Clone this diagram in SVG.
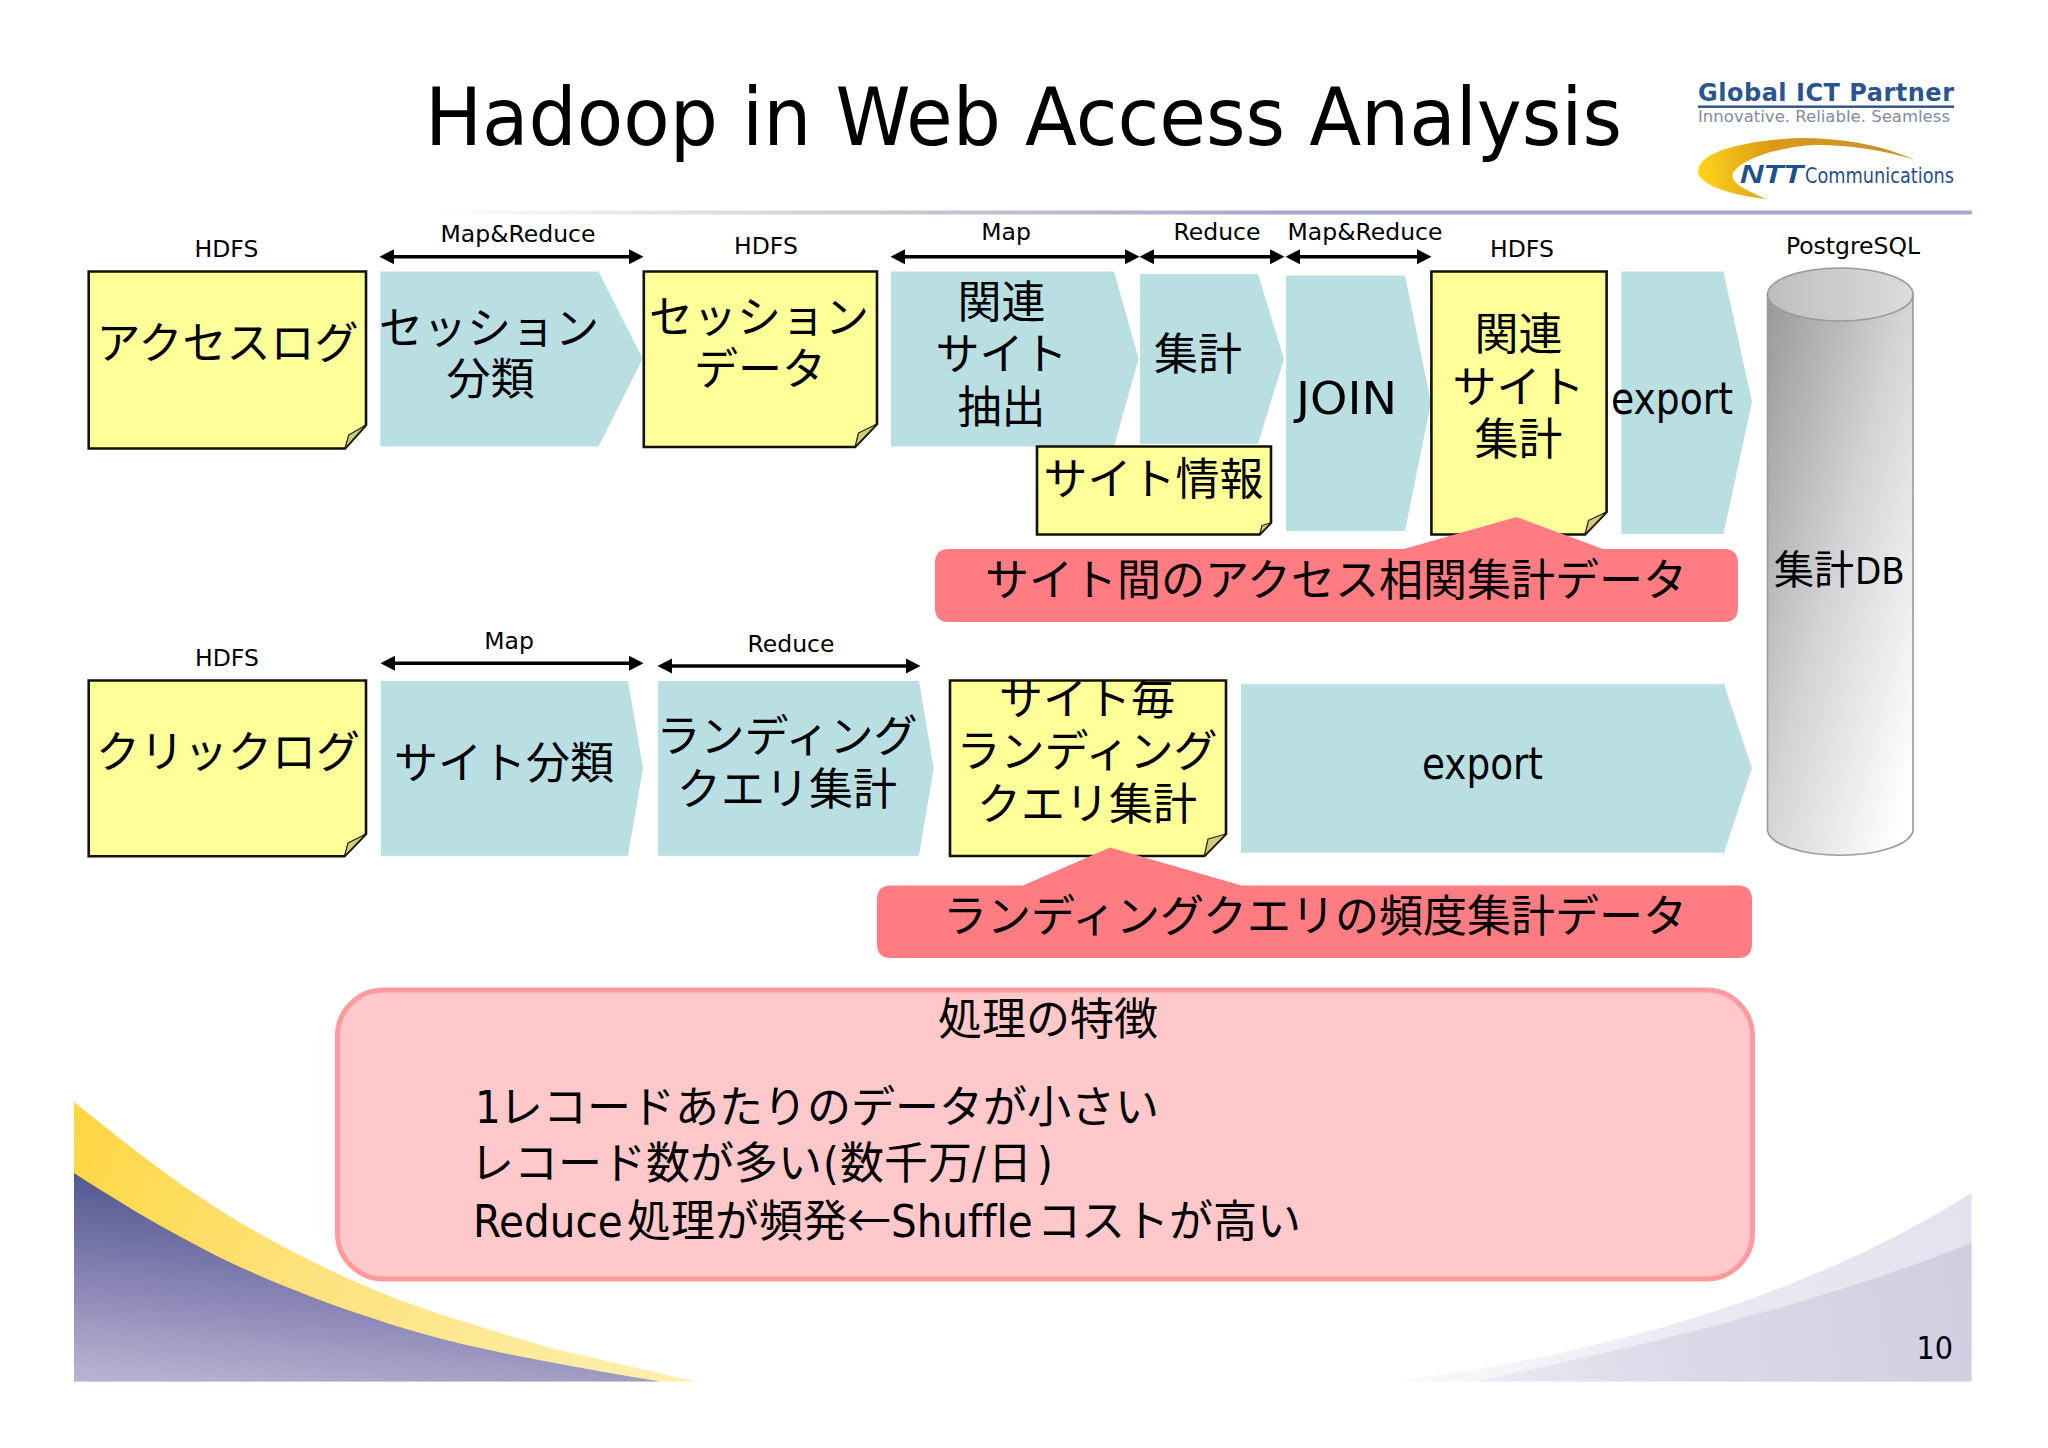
<svg xmlns="http://www.w3.org/2000/svg" width="2048" height="1448" viewBox="0 0 2048 1448">
<style>
text{fill:#000}
.j{font-family:"Noto Sans CJK JP",sans-serif;font-size:44px;text-anchor:middle}
.m{font-family:"Noto Sans CJK JP",sans-serif;font-size:44px;font-variant-ligatures:none}
.l{font-family:"DejaVu Sans",sans-serif;font-size:23.5px;text-anchor:middle}
.c{font-family:"DejaVu Sans Condensed","DejaVu Sans",sans-serif;font-stretch:condensed;font-size:45px;font-variant-ligatures:none}
.s{fill:#ffff99;stroke:#111100;stroke-width:2.6;stroke-linejoin:miter}
.f{fill:#d2cc80;stroke:#222200;stroke-width:1.2;stroke-linejoin:round}
.a{fill:#b9dfe3}
.r{fill:#ff7d82}
.d{stroke:#000;stroke-width:3.6;fill:none;marker-start:url(#h);marker-end:url(#h)}
</style>
<defs>
<marker id="h" markerUnits="userSpaceOnUse" markerWidth="15" markerHeight="16" refX="7" refY="8" orient="auto-start-reverse"><path d="M0,0.5 L14.5,8 L0,15.5 Z" fill="#000"/></marker>
<linearGradient id="gy" gradientUnits="userSpaceOnUse" x1="74" y1="1100" x2="690" y2="1380"><stop offset="0" stop-color="#ffd641"/><stop offset="0.4" stop-color="#fde27a"/><stop offset="1" stop-color="#fdf0b0"/></linearGradient>
<linearGradient id="gp" gradientUnits="userSpaceOnUse" x1="130" y1="1172" x2="110" y2="1380"><stop offset="0" stop-color="#50558f"/><stop offset="0.55" stop-color="#8a85b5"/><stop offset="1" stop-color="#b7b4d2"/></linearGradient>
<linearGradient id="gl" gradientUnits="userSpaceOnUse" x1="1972" y1="1250" x2="1392" y2="1380"><stop offset="0" stop-color="#e4e2ee"/><stop offset="0.5" stop-color="#ebe9f3"/><stop offset="1" stop-color="#fbfbfd"/></linearGradient>
<linearGradient id="gd" gradientUnits="userSpaceOnUse" x1="1972" y1="1300" x2="1475" y2="1380"><stop offset="0" stop-color="#d1cee2"/><stop offset="0.6" stop-color="#dcd9e9"/><stop offset="1" stop-color="#eceaf3"/></linearGradient>
<linearGradient id="gline" gradientUnits="userSpaceOnUse" x1="430" y1="0" x2="1972" y2="0"><stop offset="0" stop-color="#ffffff"/><stop offset="0.3" stop-color="#c9c9d2"/><stop offset="0.55" stop-color="#a9a6cc"/><stop offset="1" stop-color="#a9a6cc"/></linearGradient>
<linearGradient id="gcyl" gradientUnits="userSpaceOnUse" x1="1767" y1="330" x2="2015" y2="396"><stop offset="0" stop-color="#9c9c9c"/><stop offset="0.5" stop-color="#d4d4d6"/><stop offset="1" stop-color="#ffffff"/></linearGradient>
<linearGradient id="gtop" gradientUnits="userSpaceOnUse" x1="1767" y1="294" x2="1913" y2="294"><stop offset="0" stop-color="#bdbdbd"/><stop offset="1" stop-color="#dcdcdc"/></linearGradient>
<linearGradient id="gsw" gradientUnits="userSpaceOnUse" x1="1698" y1="170" x2="1915" y2="150"><stop offset="0" stop-color="#ffd51c"/><stop offset="0.35" stop-color="#d99a14"/><stop offset="1" stop-color="#c89030"/></linearGradient>
<clipPath id="clipS"><rect x="950" y="680.5" width="276" height="175"/></clipPath>
</defs>
<rect width="2048" height="1448" fill="#fff"/>

<g id="background">
<path d="M74,1102 C114,1134 154,1166 194,1193 C238,1223 283,1248 328,1269 C372,1291 417,1307 462,1321 C492,1330 521,1340 551,1348 C598,1359 645,1370 696,1381.5 L74,1381.5 Z" fill="url(#gy)"/>
<path d="M74,1173 C114,1199 154,1223 194,1244 C238,1268 283,1286 328,1303 C372,1319 417,1333 462,1344 C527,1359 592,1370 660,1381.5 L74,1381.5 Z" fill="url(#gp)"/>
<path d="M1971.5,1193 C1800,1300 1600,1355 1392,1381.5 L1971.5,1381.5 Z" fill="url(#gl)"/>
<path d="M1971.5,1243 C1830,1300 1650,1345 1475,1381.5 L1971.5,1381.5 Z" fill="url(#gd)"/>
<rect x="430" y="210.5" width="1542" height="4" fill="url(#gline)"/>
</g>

<g id="title"><text x="425" y="145" font-family="DejaVu Sans,sans-serif" font-size="80" textLength="1197" lengthAdjust="spacingAndGlyphs">Hadoop in Web Access Analysis</text></g>

<g id="logo">
<text x="1698" y="100.7" font-family="DejaVu Sans,sans-serif" font-weight="bold" font-size="24" style="fill:#2a5590" textLength="256" lengthAdjust="spacing">Global ICT Partner</text>
<rect x="1698" y="105.5" width="256" height="2.4" fill="#2f4f8a"/>
<text x="1698" y="121.7" font-family="DejaVu Sans,sans-serif" font-size="15" style="fill:#7f8ca3" textLength="252" lengthAdjust="spacingAndGlyphs">Innovative. Reliable. Seamless</text>
<path d="M1915,160 C1880,144 1840,138 1800,138 C1750,140 1698,150 1698,172 C1700,186 1735,196 1767,199 C1745,190 1730,183 1733,173 C1745,155 1790,146 1815,145 C1855,145 1890,152 1915,160 Z" fill="url(#gsw)"/>
<text x="1740" y="182.7" font-family="Liberation Sans,sans-serif" font-weight="bold" font-style="italic" font-size="25" style="fill:#1f4f8c" textLength="63" lengthAdjust="spacingAndGlyphs">NTT</text>
<text x="1805" y="182.7" font-family="DejaVu Sans,sans-serif" font-size="21" style="fill:#1f4f8c" textLength="149" lengthAdjust="spacingAndGlyphs">Communications</text>
</g>

<g id="connectors">
<line class="d" x1="387" y1="256.7" x2="636" y2="256.7"/>
<line class="d" x1="898" y1="256.7" x2="1132" y2="256.7"/>
<line class="d" x1="1147" y1="256.7" x2="1277" y2="256.7"/>
<line class="d" x1="1293" y1="256.7" x2="1424" y2="256.7"/>
<line class="d" x1="388" y1="663.3" x2="636" y2="663.3"/>
<line class="d" x1="665" y1="666" x2="913" y2="666"/>
</g>

<g id="labels">
<text class="l" x="226.5" y="257">HDFS</text>
<text class="l" x="518" y="242">Map&amp;Reduce</text>
<text class="l" x="766" y="254">HDFS</text>
<text class="l" x="1006" y="240">Map</text>
<text class="l" x="1217" y="240">Reduce</text>
<text class="l" x="1365" y="240">Map&amp;Reduce</text>
<text class="l" x="1522" y="257">HDFS</text>
<text class="l" x="1853" y="254">PostgreSQL</text>
<text class="l" x="227" y="666">HDFS</text>
<text class="l" x="509" y="649">Map</text>
<text class="l" x="791" y="652">Reduce</text>
</g>

<g id="n-access-log">
<path class="s" d="M88.7,271.5 H366 V425 L345,448.5 H88.7 Z"/>
<path class="f" d="M345,448.5 L348.7,435 L366,425 Z"/>
<text class="j" x="227.5" y="359">アクセスログ</text>
</g>
<g id="n-session-classify">
<polygon class="a" points="380.3,271.5 598.5,271.5 642.7,358.5 598.5,446.5 380.3,446.5"/>
<text class="j" x="489" y="344">セッション</text>
<text class="j" x="490.5" y="395">分類</text>
</g>
<g id="n-session-data">
<path class="s" d="M643.8,271.5 H877 V424 L855,447 H643.8 Z"/>
<path class="f" d="M855,447 L858.5,433 L877,424 Z"/>
<text class="j" x="759" y="333">セッション</text>
<text class="j" x="760" y="385">データ</text>
</g>
<g id="n-related-extract">
<polygon class="a" points="891,271.5 1114,271.5 1138.7,358.5 1114,446.5 891,446.5"/>
<text class="j" x="1001.4" y="318">関連</text>
<text class="j" x="1001.4" y="370">サイト</text>
<text class="j" x="1001.4" y="423">抽出</text>
</g>
<g id="n-aggregate">
<polygon class="a" points="1140,274 1258,274 1284,359 1258,444 1140,444"/>
<text class="j" x="1198" y="370">集計</text>
</g>
<g id="n-join">
<polygon class="a" points="1286,275.5 1405,275.5 1431,402.5 1405,531 1286,531"/>
<text class="c" x="1296" y="414" textLength="101" lengthAdjust="spacingAndGlyphs">JOIN</text>
</g>
<g id="n-site-info">
<path class="s" d="M1037,446.5 H1271 V522.7 L1259.7,534.5 H1037 Z"/>
<path class="f" d="M1259.7,534.5 L1262,525.5 L1271,522.7 Z"/>
<text class="j" x="1153.5" y="495">サイト情報</text>
</g>
<g id="n-related-total">
<path class="s" d="M1431.4,271.5 H1606.6 V512 L1585,534.5 H1431.4 Z"/>
<path class="f" d="M1585,534.5 L1588.5,520.5 L1606.6,512 Z"/>
<text class="j" x="1518.6" y="350">関連</text>
<text class="j" x="1518.6" y="403">サイト</text>
<text class="j" x="1518.6" y="455">集計</text>
</g>
<g id="n-export-1">
<polygon class="a" points="1621.4,271.5 1723.5,271.5 1752,402 1723.5,534 1621.4,534"/>
<text class="c" x="1611" y="413.5" textLength="122" lengthAdjust="spacingAndGlyphs">export</text>
</g>
<g id="n-db">
<path d="M1767.5,294 V831 A73,26.5 0 0 0 1913,831 V294 Z" fill="url(#gcyl)" stroke="#9a9a9a" stroke-width="1.6"/>
<ellipse cx="1840.2" cy="294.5" rx="72.8" ry="26.5" fill="url(#gtop)" stroke="#9a9a9a" stroke-width="1.6"/>
<text x="1774" y="584" class="c" style="font-size:38px"><tspan style="font-size:40px;font-family:'Noto Sans CJK JP',sans-serif">集計</tspan><tspan dx="1">DB</tspan></text>
</g>
<g id="n-callout-1">
<path class="r" d="M949,549 H1403.7 L1516.6,517 L1603,549 H1724 Q1738,549 1738,563 V608 Q1738,622 1724,622 H949 Q935,622 935,608 V563 Q935,549 949,549 Z"/>
<text class="j" x="1336" y="596">サイト間のアクセス相関集計データ</text>
</g>

<g id="n-click-log">
<path class="s" d="M88.7,680.5 H366 V834 L344.4,856.3 H88.7 Z"/>
<path class="f" d="M344.4,856.3 L348,843 L366,834 Z"/>
<text class="j" x="228" y="767.5">クリックログ</text>
</g>
<g id="n-site-classify">
<polygon class="a" points="380.8,681 628,681 643,768 628,855.7 380.8,855.7"/>
<text class="j" x="504" y="779">サイト分類</text>
</g>
<g id="n-landing-total">
<polygon class="a" points="658,681 919,681 933.7,768 919,855.7 658,855.7"/>
<text class="j" x="787" y="751.5">ランディング</text>
<text class="j" x="787" y="805">クエリ集計</text>
</g>
<g id="n-site-landing">
<path class="s" d="M950,680.5 H1226 V834 L1204.3,856 H950 Z"/>
<path class="f" d="M1204.3,856 L1208,839 L1226,834 Z"/>
<text class="j" x="1087" y="715" clip-path="url(#clipS)">サイト毎</text>
<text class="j" x="1087" y="767">ランディング</text>
<text class="j" x="1087" y="820">クエリ集計</text>
</g>
<g id="n-export-2">
<polygon class="a" points="1241,684.3 1723,684.3 1723,681 1752,768.3 1723,856 1723,852.7 1241,852.7"/>
<text class="c" x="1422" y="779" textLength="121" lengthAdjust="spacingAndGlyphs">export</text>
</g>
<g id="n-callout-2">
<path class="r" d="M891,885.5 H1023 L1110,847.5 L1241.7,885.5 H1738 Q1752,885.5 1752,899.5 V944 Q1752,958 1738,958 H891 Q877,958 877,944 V899.5 Q877,885.5 891,885.5 Z"/>
<text class="j" x="1315" y="932">ランディングクエリの頻度集計データ</text>
</g>

<g id="n-notes">
<rect x="337.5" y="990" width="1415" height="289" rx="46" fill="#ffc8ca" stroke="#ff9a9f" stroke-width="5"/>
<text class="j" x="1048" y="1035">処理の特徴</text>
<text class="m" y="1123"><tspan class="c" x="475">1</tspan><tspan x="499">レコードあたりのデータが小さい</tspan></text>
<text class="m" y="1178.5"><tspan x="470">レコード数が多い</tspan><tspan class="c" x="823">(</tspan><tspan x="840">数千万</tspan><tspan class="c" x="972">/</tspan><tspan x="988">日</tspan><tspan class="c" x="1037">)</tspan></text>
<text class="m" y="1237"><tspan class="c" x="473">Reduce</tspan><tspan x="627">処理が頻発←</tspan><tspan class="c" x="891">Shuffle</tspan><tspan x="1037">コストが高い</tspan></text>
</g>

<g id="page-number"><text class="c" x="1953" y="1359" style="font-size:32px;text-anchor:end">10</text></g>
</svg>
